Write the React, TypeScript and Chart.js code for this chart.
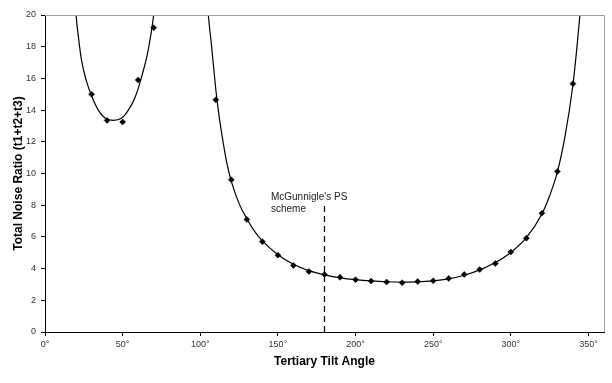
import { useEffect, useRef } from 'react';
import { Chart, registerables } from 'chart.js';

Chart.register(...registerables);

// Measured markers (tertiary tilt angle in degrees, total noise ratio)
const markerLeftAngles = [30, 40, 50, 60, 70];
const markerLeftValues = [15.0, 13.35, 13.25, 15.9, 19.2];

const markerRightAngles = [
  110, 120, 130, 140, 150, 160, 170, 180, 190, 200, 210, 220,
  230, 240, 250, 260, 270, 280, 290, 300, 310, 320, 330, 340,
];
const markerRightValues = [
  14.65, 9.6, 7.1, 5.7, 4.85, 4.2, 3.82, 3.62, 3.45, 3.3, 3.22, 3.15,
  3.11, 3.18, 3.23, 3.38, 3.63, 3.94, 4.32, 5.05, 5.92, 7.5, 10.13, 15.67,
];

// Theoretical curve
const curveLeftAngles = [19.3, 20, 21.4, 23.6, 26.8, 30, 34.3, 38.6, 44, 49.4, 53.7, 58, 62.2, 66.5, 70, 70.5];
const curveLeftValues = [21, 20, 18.7, 17.1, 15.8, 14.9, 14.0, 13.5, 13.35, 13.5, 14.0, 14.8, 16.1, 17.8, 20, 20.5];

const curveRightAngles = [
  104.8, 105.2, 107, 109, 110, 112, 115, 117, 120, 125, 130, 135, 140, 150, 160, 170,
  180, 190, 200, 210, 220, 230, 240, 250, 260, 270, 280, 290, 300, 310, 320, 325,
  330, 335, 340, 342.4, 344.5, 345,
];
const curveRightValues = [
  20.6, 20, 18.3, 16.3, 15.3, 13.7, 11.8, 10.7, 9.5, 8.1, 7.15, 6.35, 5.75, 4.88, 4.27, 3.87,
  3.6, 3.42, 3.3, 3.22, 3.17, 3.15, 3.16, 3.22, 3.35, 3.58, 3.92, 4.38, 5.02, 5.95, 7.45, 8.6,
  10.1, 12.4, 15.6, 17.8, 20, 20.6,
];

// McGunnigle's PS scheme marker line
const schemeAngles = [180, 180];
const schemeValues = [0, 8.0];
const schemeLabelLines = ["McGunnigle's PS", 'scheme'];

// Axes
const xMin = 0;
const xMax = 360;
const xStep = 50;
const yMin = 0;
const yMax = 20;
const yStep = 2;
const xTitle = 'Tertiary Tilt Angle';
const yTitle = 'Total Noise Ratio (t1+t2+t3)';

const toPoints = (xs: number[], ys: number[]) => xs.map((x, i) => ({ x, y: ys[i] }));

const FONT = "'Liberation Sans', Arial, sans-serif";

const frameAndLabelPlugin = {
  id: 'frameAndLabel',
  afterDatasetsDraw(chart: any) {
    const { ctx, chartArea, scales } = chart;
    ctx.save();
    // plot area border (top & right)
    ctx.strokeStyle = '#a0a0a0';
    ctx.lineWidth = 1;
    ctx.beginPath();
    ctx.moveTo(chartArea.left, chartArea.top + 0.5);
    ctx.lineTo(chartArea.right + 0.5, chartArea.top + 0.5);
    ctx.lineTo(chartArea.right + 0.5, chartArea.bottom);
    ctx.stroke();
    // annotation text
    ctx.fillStyle = '#222';
    ctx.font = `10px ${FONT}`;
    ctx.textBaseline = 'middle';
    ctx.textAlign = 'left';
    const tx = scales.x.getPixelForValue(145.5);
    ctx.fillText(schemeLabelLines[0], tx, scales.y.getPixelForValue(8.52));
    ctx.fillText(schemeLabelLines[1], tx, scales.y.getPixelForValue(7.72));
    ctx.restore();
  },
};

export default function App() {
  const canvasRef = useRef<HTMLCanvasElement | null>(null);

  useEffect(() => {
    document.body.style.margin = '0';
    const canvas = canvasRef.current;
    if (!canvas) return;
    const chart = new Chart(canvas, {
      type: 'scatter',
      data: {
        datasets: [
          {
            data: toPoints(curveLeftAngles, curveLeftValues),
            showLine: true,
            borderColor: '#000',
            borderWidth: 1.2,
            pointRadius: 0,
            cubicInterpolationMode: 'monotone',
            tension: 0.4,
          },
          {
            data: toPoints(curveRightAngles, curveRightValues),
            showLine: true,
            borderColor: '#000',
            borderWidth: 1.2,
            pointRadius: 0,
            cubicInterpolationMode: 'monotone',
            tension: 0.4,
          },
          {
            data: toPoints(schemeAngles, schemeValues),
            showLine: true,
            borderColor: '#000',
            borderWidth: 1.2,
            borderDash: [6, 4],
            pointRadius: 0,
          },
          {
            data: toPoints(markerLeftAngles, markerLeftValues),
            showLine: false,
            pointStyle: 'rectRot',
            pointRadius: 3,
            backgroundColor: '#000',
            borderColor: '#000',
            borderWidth: 0.5,
          },
          {
            data: toPoints(markerRightAngles, markerRightValues),
            showLine: false,
            pointStyle: 'rectRot',
            pointRadius: 3,
            backgroundColor: '#000',
            borderColor: '#000',
            borderWidth: 0.5,
          },
        ] as any,
      },
      options: {
        animation: false,
        responsive: false,
        devicePixelRatio: 1,
        layout: { padding: { top: 15, right: 8, left: 0, bottom: 0 } },
        plugins: {
          legend: { display: false },
          tooltip: { enabled: false },
        },
        scales: {
          x: {
            type: 'linear',
            min: xMin,
            max: xMax,
            afterFit: (s: any) => { s.height = 51; },
            grid: { drawOnChartArea: false, drawTicks: true, tickLength: 4, color: '#000' },
            border: { display: true, color: '#000', width: 1 },
            ticks: {
              stepSize: xStep,
              includeBounds: false,
              autoSkip: false,
              maxRotation: 0,
              padding: 3,
              color: '#333',
              font: { family: FONT, size: 9 },
              callback: (v: any) => `${v}°`,
            },
            title: {
              display: true,
              text: xTitle,
              color: '#000',
              font: { family: FONT, size: 12, weight: 'bold' },
              padding: { top: 0, bottom: 14 },
            },
          },
          y: {
            type: 'linear',
            min: yMin,
            max: yMax,
            afterFit: (s: any) => { s.width = 45; },
            grid: { drawOnChartArea: false, drawTicks: true, tickLength: 4, color: '#000' },
            border: { display: true, color: '#000', width: 1 },
            ticks: {
              stepSize: yStep,
              padding: 5,
              color: '#333',
              font: { family: FONT, size: 9 },
            },
            title: {
              display: true,
              text: yTitle,
              color: '#000',
              font: { family: FONT, size: 12, weight: 'bold' },
              padding: { top: 11, bottom: 0 },
            },
          },
        },
      } as any,
      plugins: [frameAndLabelPlugin],
    });
    return () => chart.destroy();
  }, []);

  return (
    <div style={{ width: 612, height: 383, background: '#fff' }}>
      <canvas ref={canvasRef} width={612} height={383} />
    </div>
  );
}
